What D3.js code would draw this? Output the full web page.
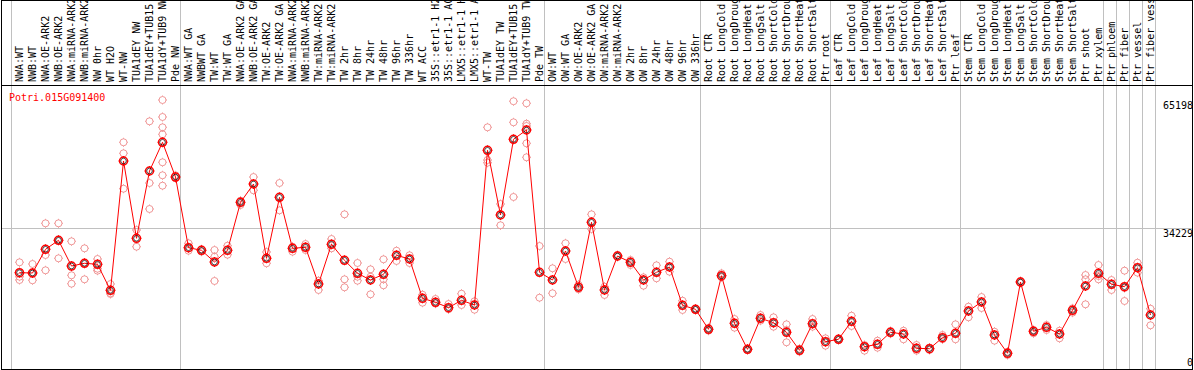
<!DOCTYPE html>
<html>
<head>
<meta charset="utf-8">
<script src="https://cdn.jsdelivr.net/npm/d3@7"></script>
<style>
  html, body { margin: 0; padding: 0; background: #fff; }
  svg { display: block; }
  text { font-family: "DejaVu Sans Mono", monospace; font-size: 10px; }
</style>
</head>
<body>
<svg id="chart" width="1194" height="370"></svg>
<script>
// sample names, one per column
var labels = [
  "NWA:WT", "NWB:WT", "NWA:OE-ARK2", "NWB:OE-ARK2", "NWA:miRNA-ARK2", "NWB:miRNA-ARK2",
  "NW 0hr", "WT H2O", "WT-NW", "TUA1dEY NW", "TUA1dEY+TUB15 NW", "TUA1dY+TUB9 NW", "Pde NW",
  "NWA:WT GA", "NWBWT GA", "TW:WT", "TW:WT GA", "NWA:OE-ARK2 GA", "NWB:OE-ARK2 GA",
  "TW:OE-ARK2", "TW:OE-ARK2 GA", "NWA:miRNA-ARK2", "NWB:miRNA-ARK2", "TW:miRNA-ARK2", "TW:miRNA-ARK2",
  "TW 2hr", "TW 8hr", "TW 24hr", "TW 48hr", "TW 96hr", "TW 336hr", "WT ACC",
  "35S::etr1-1 H2O", "35S::etr1-1 ACC", "LMX5::etr1-1 H2O", "LMX5::etr1-1 ACC",
  "WT-TW", "TUA1dEY TW", "TUA1dEY+TUB15 TW", "TUA1dY+TUB9 TW", "Pde TW",
  "OW:WT", "OW:WT GA", "OW:OE-ARK2", "OW:OE-ARK2 GA", "OW:miRNA-ARK2", "OW:miRNA-ARK2",
  "OW 2hr", "OW 8hr", "OW 24hr", "OW 48hr", "OW 96hr", "OW 336hr",
  "Root CTR", "Root LongCold", "Root LongDrought", "Root LongHeat", "Root LongSalt",
  "Root ShortCold", "Root ShortDrought", "Root ShortHeat", "Root ShortSalt", "Ptr root",
  "Leaf CTR", "Leaf LongCold", "Leaf LongDrought", "Leaf LongHeat", "Leaf LongSalt",
  "Leaf ShortCold", "Leaf ShortDrought", "Leaf ShortHeat", "Leaf ShortSalt", "Ptr leaf",
  "Stem CTR", "Stem LongCold", "Stem LongDrought", "Stem LongHeat", "Stem LongSalt",
  "Stem ShortCold", "Stem ShortDrought", "Stem ShortHeat", "Stem ShortSalt", "Ptr shoot",
  "Ptr xylem", "Ptr phloem", "Ptr fiber", "Ptr vessel", "Ptr fiber vessel"
];

// first column of each block (vertical separators), last entry = end
var groupStarts = [0, 13, 41, 53, 63, 73, 84, 85, 86, 87, 88];

// mean expression per sample
var means = [
  23340, 23270, 29010, 31190, 24960, 25620, 25380, 19070, 50410, 31680, 47990, 54950, 46530,
  29400, 28770, 25930, 28770, 40400, 44840, 26830, 41610, 29250, 29500, 20600, 30220,
  26350, 23190, 21570, 22950, 27560, 26660, 17140, 16170, 14860, 16650, 15510,
  53010, 37330, 55670, 57930, 23440,
  21570, 28600, 19800, 35560, 19150, 27390, 25860, 21570, 23440, 24720, 15440, 14470,
  9620, 22610, 11080, 4770, 12290, 11220, 8890, 4530, 10980, 6620,
  7200, 11560, 5400, 5990, 8890, 8480, 5020, 4920, 7590, 8650,
  14060, 16240, 8240, 3810, 21090, 9140, 10110, 8480, 14230, 20120,
  23190, 20530, 19950, 24550, 13090
];

// individual replicates per sample
var reps = [
  [25860, 22370, 21570], [25450, 23270, 21500], [35310, 27630, 23920], [35310, 26830, 31270],
  [30950, 22710, 20670], [29250, 21740, 25690], [26660, 24310, 23830], [20600, 18350, 18180],
  [54950, 52280, 43700], [33690, 29640], [60030, 45080, 38780],
  [65198, 61080, 58580, 56880, 50100, 46950, 44430], [46950, 46220],
  [30470, 28670], [29010, 28430], [28840, 27220, 21330], [29880, 27700], [40790, 39750],
  [46530, 43310], [28360, 25620], [45080, 38460], [29640, 28430], [30300, 28840],
  [21400, 19150], [31510, 29250], [37490, 21740, 19800], [25690, 22370, 21400],
  [24160, 22370, 18100], [26590, 21740, 20290], [28670, 26180], [27560, 25690],
  [18010, 16070], [16970, 15830], [15750, 14470], [18250, 15510], [16410, 14370],
  [58580, 50650, 50000], [39990, 34830], [64900, 59790, 41690],
  [64400, 59450, 58900, 54700, 51310], [29810, 17280],
  [24410, 18350], [30470, 26660], [20430, 19320], [37490, 33930], [19950, 17940],
  [27630, 27150], [26420, 25210], [22220, 20190], [25130, 21980], [26010, 23580],
  [16550, 14300], [14540, 14300],
  [9940, 9280], [23190, 22220], [12120, 10010], [4920, 4610], [13090, 11710],
  [12530, 10250], [10830, 9450, 6470], [4920, 4190], [12120, 10250], [7440, 5650],
  [7390, 7030], [12920, 10420], [5820, 4440], [6860, 5160], [9210, 8560],
  [9280, 7200], [5820, 4440], [5210, 4610], [8240, 7200], [10830, 7200],
  [15100, 12530], [17450, 14780], [9040, 6860], [4190, 3390], [21330, 20840],
  [9450, 8650], [10660, 9450], [9280, 7440], [14710, 13650], [22780, 21740, 15680],
  [25210, 22540, 21740], [21570, 19150], [23830, 19630, 16480], [25760, 23340], [14610, 10590]
];

var yTicks = [65198, 34229, 0];
var geneName = "Potri.015G091400";

var W = 1194, H = 370, headerH = 85, plotBottom = 369;

var svg = d3.select("#chart");

var x = d3.scaleBand()
  .domain(d3.range(labels.length))
  .range([11.5, 11.5 + labels.length * 13])
  .paddingInner(0)
  .paddingOuter(0);

var y = d3.scaleLinear()
  .domain([0, 65198])
  .range([plotBottom, 100]);

function cx(i) { return x(i) + 8; }
function sepX(i) { return i < labels.length ? x(i) : x.range()[1]; }

// header text is cut at the top edge, as in the original
svg.append("clipPath").attr("id", "hdr")
  .append("rect").attr("x", 0).attr("y", 1).attr("width", W).attr("height", headerH - 1);

// horizontal grid line at middle tick
svg.append("line")
  .attr("x1", 1).attr("x2", 1193)
  .attr("y1", Math.round(y(34229)) + 0.5).attr("y2", Math.round(y(34229)) + 0.5)
  .attr("stroke", "#c0c0c0").attr("stroke-width", 1);

// vertical separators
svg.selectAll("line.sep")
  .data(groupStarts)
  .enter().append("line")
  .attr("class", "sep")
  .attr("x1", function (d) { return sepX(d); })
  .attr("x2", function (d) { return sepX(d); })
  .attr("y1", 0).attr("y2", plotBottom)
  .attr("stroke", "#c0c0c0").attr("stroke-width", 1);

// column labels
svg.append("g").attr("clip-path", "url(#hdr)")
  .selectAll("text")
  .data(labels)
  .enter().append("text")
  .attr("transform", function (d, i) { return "translate(" + (cx(i) + 3) + "," + 82 + ") rotate(-90)"; })
  .attr("fill", "#000")
  .text(function (d) { return d; });

// frame
svg.append("rect")
  .attr("x", 1.5).attr("y", 0.5).attr("width", 1191).attr("height", plotBottom)
  .attr("fill", "none").attr("stroke", "#000").attr("stroke-width", 1);
svg.append("line")
  .attr("x1", 1).attr("x2", 1193).attr("y1", headerH + 0.5).attr("y2", headerH + 0.5)
  .attr("stroke", "#000");

// y labels at right
svg.selectAll("text.ytick")
  .data(yTicks)
  .enter().append("text")
  .attr("class", "ytick")
  .attr("x", 1193)
  .attr("y", function (d) { return d === 0 ? plotBottom - 3 : y(d) + 9; })
  .attr("text-anchor", "end")
  .attr("fill", "#000")
  .text(function (d) { return d; });

// gene id
svg.append("text")
  .attr("x", 9).attr("y", 101)
  .attr("fill", "#ff0000")
  .text(geneName);

// circle with tiny ticks, like the bitmap original
function addMarker(g, px, py, r, color, sw) {
  g.append("circle").attr("cx", px).attr("cy", py).attr("r", r)
    .attr("fill", "none").attr("stroke", color).attr("stroke-width", sw);
  g.append("path")
    .attr("d", "M" + (px - r - 1) + "," + py + "h1M" + (px + r) + "," + py + "h1" +
               "M" + px + "," + (py - r - 1) + "v1M" + px + "," + (py + r) + "v1")
    .attr("stroke", color).attr("stroke-width", 1).attr("fill", "none");
}

// replicates
var repG = svg.append("g");
reps.forEach(function (arr, i) {
  arr.forEach(function (v) {
    addMarker(repG, cx(i), y(v), 3.5, "#f09898", 1);
  });
});

// mean line
var line = d3.line()
  .x(function (d, i) { return cx(i); })
  .y(function (d) { return y(d); });

svg.append("path")
  .datum(means)
  .attr("d", line)
  .attr("fill", "none")
  .attr("stroke", "#ff0000")
  .attr("stroke-width", 1);

// mean markers
var meanG = svg.append("g");
means.forEach(function (v, i) {
  addMarker(meanG, cx(i), y(v), 4, "#ff0000", 1.5);
  meanG.append("circle").attr("cx", cx(i)).attr("cy", y(v)).attr("r", 2.8)
    .attr("fill", "none").attr("stroke", "#000").attr("stroke-width", 0.7);
});
</script>
</body>
</html>
